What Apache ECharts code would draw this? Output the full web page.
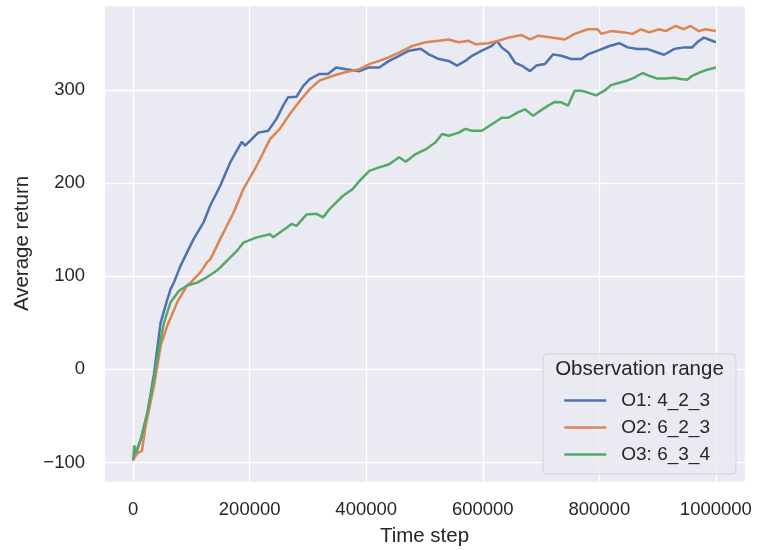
<!DOCTYPE html>
<html>
<head>
<meta charset="utf-8">
<script src="https://cdn.jsdelivr.net/npm/echarts@6/dist/echarts.min.js"></script>
<style>
html,body{margin:0;padding:0;background:#fff;}
#chart{width:759px;height:550px;}
</style>
</head>
<body>
<div id="chart"></div>
<script>
var seriesNames = ['O1: 4_2_3', 'O2: 6_2_3', 'O3: 6_3_4'];
var legendTitle = 'Observation range';
var xAxisTitle = 'Time step';
var yAxisTitle = 'Average return';

var o1Steps = [0,6000,15000,25000,35800,47200,58700,64300,69900,81300,98400,104000,121100,132500,149500,166600,186500,192200,214800,231900,246200,257500,266000,280300,291600,303000,320000,334200,348500,365500,388200,405300,422300,439300,456400,473500,493400,507600,524600,541700,555800,570100,581400,598500,615500,624000,632600,644000,655400,666700,681000,692200,706500,720700,734900,751900,769000,780400,797400,817400,834400,848600,865600,882700,899700,911100,928200,945200,959400,967900,979400,987900,1000000];
var o1Return = [-97,-88,-72,-45,-5,50,75,86,93,111,133,140,158,176,197,222,244,240,254,256,269,283,292,292.5,304,311.5,317,317,324,322,320,324,324,331,336.5,342,344,338,333,331,326,331,336.5,342,347,352.6,345.5,340,329,326,320,326,327.6,338,336.5,333,333,338,342,347,350,345.5,343.7,343.7,340,337.6,343.7,345.5,345.5,351,356,354,351];

var o2Steps = [0,5000,10200,15000,21700,35800,47200,58700,75700,92800,98400,115400,126900,132500,149500,172200,189300,212100,234800,251800,268900,285900,303000,320000,342700,365500,388200,405300,422300,439300,456400,479100,501900,524600,541700,558700,575800,587200,609900,626900,644000,666700,681000,695100,717800,740600,757700,780400,797400,803100,820100,842900,857100,871300,885600,902600,913900,930900,945200,956500,970800,982100,1000000];
var o2Return = [-97,-92,-89,-88,-60,-18,25,47,72,90,93,104,115,118,140,168,193.5,218.5,247,258,274,288,300.7,310,315,319,322,327.6,331,335,340,347,351,352.6,354,351,352.6,349,350,352.6,356,358.7,354,358,356,354,360,365,365,360,363,361.6,360,365,361.6,365,363,368.5,365,368.5,363,365,363];

var o3Steps = [0,2000,5000,13100,24600,35800,44300,52900,64300,78400,92800,109800,126900,143900,161000,178000,189300,212100,234800,240400,263300,271800,280300,297400,314400,325700,337100,359800,376800,388200,405300,422300,439300,456400,467800,484900,501900,519000,530300,541700,558700,570100,581400,598500,615500,632600,644000,661000,672400,686600,695100,712200,723600,734900,746300,757700,769000,780400,794500,808800,820100,837200,848600,860000,874200,885600,899700,913900,928200,939500,950800,959400,973600,985000,1000000];
var o3Return = [-98,-82,-89,-75,-46,-10,22,50,72,84,90,93,99,106,116.5,127,136,141.6,145,141.6,152,156,154,166,167,163,172,186,193.5,202,213,216.7,220,227.5,222.7,231,236,243.6,252.5,250.7,254,258,256,256,263,270,270,276,279,272,276,283,287,286.5,283,299,299,297,294,299,305,308,310,313,318,315,312,312,313,311.5,310.7,315,319,321.5,324];

var colors = ['#4C72B0', '#DD8452', '#55A868'];
var stepsList = [o1Steps, o2Steps, o3Steps];
var returnsList = [o1Return, o2Return, o3Return];

function zip(a, b) { return a.map(function (v, i) { return [v, b[i]]; }); }

var FONT = "'Liberation Sans', Arial, sans-serif";
var TXT = '#262626';

var chart = echarts.init(document.getElementById('chart'), null, {renderer: 'canvas'});
var series = seriesNames.map(function (n, i) {
  return {
    name: n, type: 'line', data: zip(stepsList[i], returnsList[i]),
    symbol: 'none', smooth: false,
    lineStyle: {color: colors[i], width: 2.5},
    itemStyle: {color: colors[i]},
    z: 3 + i
  };
});

chart.setOption({
  animation: false,
  backgroundColor: '#ffffff',
  grid: {left: 104, top: 5, width: 641, height: 477, show: true, backgroundColor: '#EAEAF2', borderWidth: 0, containLabel: false, outerBoundsMode: 'none'},
  xAxis: {
    type: 'value', min: -50000, max: 1050000, splitNumber: 5,
    axisLine: {show: false}, axisTick: {show: false},
    splitLine: {show: true, lineStyle: {color: '#ffffff', width: 1.3}},
    axisLabel: {showMinLabel: false, showMaxLabel: false, color: TXT, fontSize: 18.5, fontFamily: FONT, margin: 18, formatter: function (v) { return String(v); }},
    name: xAxisTitle, nameLocation: 'middle', nameGap: 44,
    nameTextStyle: {color: TXT, fontSize: 20.5, fontFamily: FONT}
  },
  yAxis: {
    type: 'value', min: -121, max: 391, splitNumber: 5,
    axisLine: {show: false}, axisTick: {show: false},
    splitLine: {show: true, lineStyle: {color: '#ffffff', width: 1.3}},
    axisLabel: {showMinLabel: false, showMaxLabel: false, color: TXT, fontSize: 18.5, fontFamily: FONT, margin: 19, formatter: function (v) { return String(v).replace('-', '\u2212'); }},
    name: yAxisTitle, nameLocation: 'middle', nameGap: 71, nameRotate: 90,
    nameTextStyle: {color: TXT, fontSize: 20.5, fontFamily: FONT}
  },
  legend: {
    data: seriesNames, orient: 'vertical', left: 558, top: 386,
    itemWidth: 42, itemHeight: 20, itemGap: 8,
    itemStyle: {opacity: 0},
    lineStyle: {width: 2.5},
    textStyle: {color: TXT, fontSize: 19, fontFamily: FONT, padding: [0, 0, 0, 10]},
    z: 20
  },
  graphic: [
    {type: 'rect', z: 15, shape: {x: 543, y: 354, width: 193, height: 120, r: 4},
     style: {fill: 'rgba(234,234,242,0.8)', stroke: 'rgba(204,204,204,0.8)', lineWidth: 1}},
    {type: 'text', z: 16, x: 639.5, y: 369,
     style: {text: legendTitle, fill: TXT, font: '20.5px ' + FONT, align: 'center', verticalAlign: 'middle'}}
  ],
  series: series
});
</script>
</body>
</html>
